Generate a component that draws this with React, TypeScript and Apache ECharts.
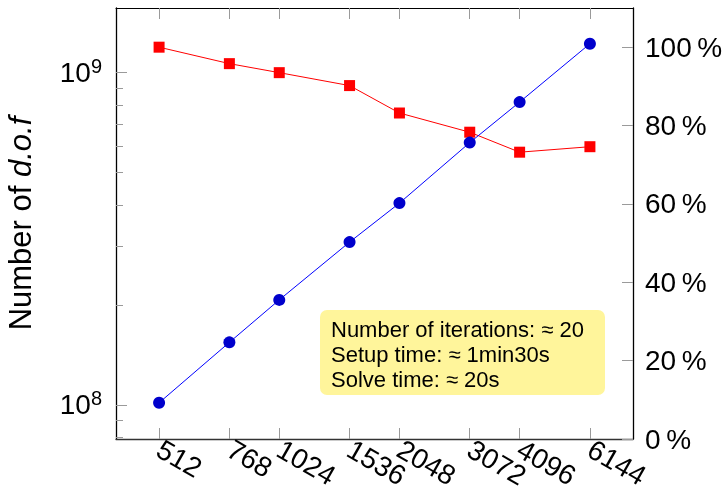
import React, { useEffect, useRef } from "react";
import * as echarts from "echarts";

const xValues = [512, 768, 1024, 1536, 2048, 3072, 4096, 6144];
const dofValues = [1.014e8, 1.542e8, 2.07e8, 3.09e8, 4.05e8, 6.16e8, 8.16e8, 1.223e9];
const efficiencyValues = [100, 95.8, 93.5, 90.2, 83.2, 78.3, 73.2, 74.6];
const leftMajorTicks = [1e8, 1e9];
const leftMinorTicks = [8e7, 9e7, 2e8, 3e8, 4e8, 5e8, 6e8, 7e8, 8e8, 9e8];
const rightTicks = [0, 20, 40, 60, 80, 100];
const infoLines = [
  "Number of iterations: \u2248 20",
  "Setup time: \u2248 1min30s",
  "Solve time: \u2248 20s",
];

const FONT = "Liberation Sans";
const X_MIN = 512 / Math.pow(2, 0.3585);
const X_MAX = 6144 * Math.pow(2, 0.3585);
const Y_MIN = Math.pow(10, 7.897);
const Y_MAX = Math.pow(10, 9.195);

export default function App() {
  const ref = useRef<HTMLDivElement>(null);
  useEffect(() => {
    if (!ref.current) return;
    const chart = echarts.init(ref.current, null, { renderer: "svg" });
    const tickColor = "#9a9a9a";
    const option: any = {
      animation: false,
      textStyle: { fontFamily: FONT },
      grid: {
        left: 116,
        right: 92,
        top: 8,
        bottom: 51,
        containLabel: false,
        outerBoundsMode: "none",
      },
      xAxis: [
        {
          type: "log",
          logBase: 2,
          min: X_MIN,
          max: X_MAX,
          position: "bottom",
          axisLine: { show: true, lineStyle: { color: "#333", width: 1.3 } },
          axisTick: {
            show: true,
            inside: true,
            length: 11,
            customValues: xValues,
            lineStyle: { color: tickColor, width: 1 },
          },
          axisLabel: {
            show: true,
            customValues: xValues,
            rotate: -30,
            margin: 8,
            fontSize: 28,
            fontFamily: FONT,
            color: "#000",
            formatter: (v: number) => String(Math.round(v)),
          },
          splitLine: { show: false },
          minorTick: { show: false },
        },
        {
          type: "log",
          logBase: 2,
          min: X_MIN,
          max: X_MAX,
          position: "top",
          axisLine: { show: true, lineStyle: { color: "#000", width: 1 } },
          axisTick: {
            show: true,
            inside: true,
            length: 11,
            customValues: xValues,
            lineStyle: { color: tickColor, width: 1 },
          },
          axisLabel: { show: false },
          splitLine: { show: false },
        },
      ],
      yAxis: [
        {
          type: "log",
          logBase: 10,
          min: Y_MIN,
          max: Y_MAX,
          position: "left",
          name: "{n|Number of }{i|d.o.f}",
          nameLocation: "middle",
          nameRotate: 90,
          nameGap: 80,
          nameTextStyle: {
            rich: {
              n: { fontSize: 31, fontFamily: FONT, color: "#000" },
              i: { fontSize: 31, fontFamily: FONT, fontStyle: "italic", color: "#000" },
            },
          },
          axisLine: { show: true, lineStyle: { color: "#000", width: 1.3 } },
          axisTick: {
            show: true,
            inside: true,
            length: 11,
            customValues: leftMajorTicks,
            lineStyle: { color: tickColor, width: 1 },
          },
          axisLabel: {
            show: true,
            customValues: leftMajorTicks,
            margin: 14,
            formatter: (v: number) => `{b|10}{s|${Math.round(Math.log10(v))}}`,
            rich: {
              b: { fontSize: 28, fontFamily: FONT, color: "#000" },
              s: { fontSize: 20, fontFamily: FONT, color: "#000", verticalAlign: "bottom", padding: [0, 0, 14, 0] },
            },
          },
          splitLine: { show: false },
        },
        {
          type: "value",
          min: 0,
          max: 110,
          position: "right",
          axisLine: { show: true, lineStyle: { color: "#000", width: 1.3 } },
          axisTick: {
            show: true,
            inside: true,
            length: 11,
            customValues: rightTicks,
            lineStyle: { color: tickColor, width: 1 },
          },
          axisLabel: {
            show: true,
            customValues: rightTicks,
            margin: 12,
            fontSize: 28,
            fontFamily: FONT,
            color: "#000",
            formatter: (v: number) => `${v}\u2009%`,
          },
          splitLine: { show: false },
        },
        {
          type: "log",
          logBase: 10,
          min: Y_MIN,
          max: Y_MAX,
          position: "left",
          axisLine: { show: false },
          axisTick: {
            show: true,
            inside: true,
            length: 7,
            customValues: leftMinorTicks,
            lineStyle: { color: tickColor, width: 1 },
          },
          axisLabel: { show: false },
          splitLine: { show: false },
        },
      ],
      series: [
        {
          type: "line",
          xAxisIndex: 0,
          yAxisIndex: 1,
          data: xValues.map((x, i) => [x, efficiencyValues[i]]),
          symbol: "rect",
          symbolSize: 11,
          lineStyle: { color: "#ff0000", width: 1 },
          itemStyle: { color: "#ff0000" },
          z: 3,
        },
        {
          type: "line",
          xAxisIndex: 0,
          yAxisIndex: 0,
          data: xValues.map((x, i) => [x, dofValues[i]]),
          symbol: "circle",
          symbolSize: 12,
          lineStyle: { color: "#0000ff", width: 1 },
          itemStyle: { color: "#0000cc" },
          z: 4,
        },
      ],
      graphic: [
        {
          type: "group",
          left: 320,
          top: 310,
          z: 10,
          children: [
            {
              type: "rect",
              shape: { x: 0, y: 0, width: 285, height: 85, r: 7 },
              style: { fill: "#fff59b" },
            },
            ...infoLines.map((t, i) => ({
              type: "text",
              x: 11,
              y: 19 + i * 25,
              style: {
                text: t,
                fontSize: 22,
                fontFamily: FONT,
                fill: "#000",
                verticalAlign: "middle",
                align: "left",
              },
            })),
          ],
        },
      ],
    };
    chart.setOption(option);
    return () => chart.dispose();
  }, []);
  return (
    <div
      ref={ref}
      style={{ position: "fixed", left: 0, top: 0, width: 725, height: 490 }}
    />
  );
}
